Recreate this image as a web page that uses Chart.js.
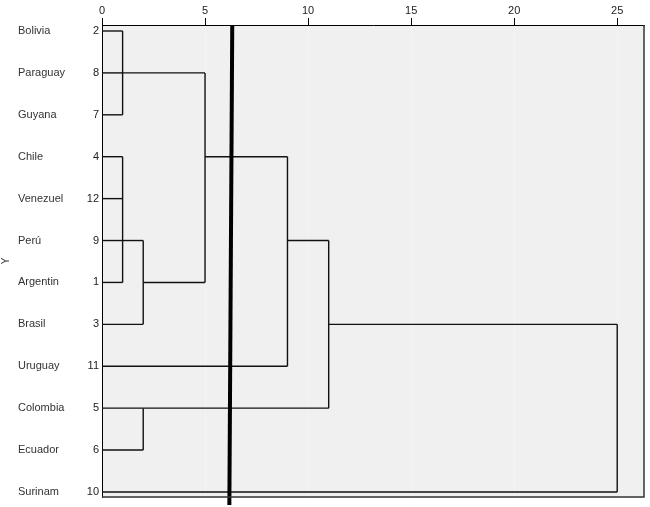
<!DOCTYPE html>
<html>
<head>
<meta charset="utf-8">
<script src="https://cdn.jsdelivr.net/npm/chart.js@4/dist/chart.umd.min.js"></script>
<style>
  html, body { margin: 0; padding: 0; background: #fff; }
  #wrap { width: 650px; height: 507px; }
</style>
</head>
<body>
<div id="wrap"><canvas id="dendro" width="650" height="507"></canvas></div>
<script>
// Leaves, top to bottom
const countries = ['Bolivia', 'Paraguay', 'Guyana', 'Chile', 'Venezuel', 'Perú', 'Argentin', 'Brasil', 'Uruguay', 'Colombia', 'Ecuador', 'Surinam'];
const caseNumbers = [2, 8, 7, 4, 12, 9, 1, 3, 11, 5, 6, 10];

// Clusters: children are leaf rows (numbers) or earlier clusters ('c0', 'c1', ...)
const clusterChildren = [
    [0, 1, 2],
    [3, 4, 5, 6],
    ['c1', 7],
    ['c0', 'c2'],
    ['c3', 8],
    [9, 10],
    ['c4', 'c5'],
    ['c6', 11]
];
const clusterHeights = [1, 1, 2, 5, 9, 2, 11, 25];
const clusterRows = [1, 5, 6, 3, 5, 9, 7, 9];

const xTicks = [0, 5, 10, 15, 20, 25];
const cutLine = [6.32, 6.18]; // hand drawn cut, top and bottom

const yMin = -0.143;
const yMax = 11.12;
const font = { family: "'Liberation Sans', Arial, sans-serif", size: 11 };

function childPos(c) {
    if (typeof c === 'number') return { row: c, h: 0 };
    const k = parseInt(c.slice(1));
    return { row: clusterRows[k], h: clusterHeights[k] };
}

// Build the elbow segments from the cluster tree
const segments = [];
clusterChildren.forEach((kids, k) => {
    const h = clusterHeights[k];
    const pos = kids.map(childPos);
    pos.forEach(p => segments.push([{ x: p.h, y: p.row }, { x: h, y: p.row }]));
    const rows = pos.map(p => p.row);
    segments.push([{ x: h, y: Math.min(...rows) }, { x: h, y: Math.max(...rows) }]);
});

const datasets = segments.map(seg => ({
    data: seg,
    showLine: true,
    borderColor: '#111',
    borderWidth: 1.4,
    pointRadius: 0,
    order: 1
}));

datasets.push({
    data: [{ x: cutLine[0], y: yMin }, { x: cutLine[1], y: 11.31 }],
    showLine: true,
    borderColor: '#000',
    borderWidth: 4,
    pointRadius: 0,
    clip: false,
    order: 0
});

// Grey plot area and frame
const plotFrame = {
    id: 'plotFrame',
    beforeDraw(chart) {
        const a = chart.chartArea;
        const ctx = chart.ctx;
        ctx.save();
        ctx.fillStyle = '#f0f0f0';
        ctx.fillRect(a.left, a.top, a.right - a.left, a.bottom - a.top);
        ctx.restore();
    },
    afterDatasetsDraw(chart) {
        const a = chart.chartArea;
        const ctx = chart.ctx;
        ctx.save();
        ctx.strokeStyle = '#333';
        ctx.lineWidth = 1.5;
        ctx.beginPath();
        ctx.moveTo(a.left, a.bottom);
        ctx.lineTo(a.right, a.bottom);
        ctx.lineTo(a.right, a.top);
        ctx.stroke();
        ctx.restore();
    }
};

new Chart(document.getElementById('dendro'), {
    type: 'scatter',
    data: { datasets: datasets },
    plugins: [plotFrame],
    options: {
        responsive: false,
        animation: false,
        layout: { padding: { left: 0, right: 6, top: 0, bottom: 10 } },
        plugins: {
            legend: { display: false },
            tooltip: { enabled: false }
        },
        scales: {
            x: {
                type: 'linear',
                position: 'top',
                min: 0,
                max: 26.3,
                afterBuildTicks: s => { s.ticks = xTicks.map(v => ({ value: v })); },
                afterFit: s => { s.height = 25; },
                grid: { color: 'rgba(255,255,255,0.3)', tickColor: '#000', tickLength: 7 },
                border: { color: '#000', width: 1 },
                ticks: { color: '#222', font: font, padding: 0, maxRotation: 0 }
            },
            y: {
                type: 'linear',
                axis: 'y',
                position: 'left',
                reverse: true,
                min: yMin,
                max: yMax,
                afterBuildTicks: s => { s.ticks = caseNumbers.map((n, i) => ({ value: i })); },
                afterFit: s => { s.width = 22; },
                grid: { display: false, drawTicks: false },
                border: { color: '#000', width: 1 },
                ticks: { color: '#222', font: font, padding: 3, callback: v => caseNumbers[v] }
            },
            yName: {
                type: 'linear',
                axis: 'y',
                position: 'left',
                weight: 1,
                reverse: true,
                min: yMin,
                max: yMax,
                afterBuildTicks: s => { s.ticks = countries.map((n, i) => ({ value: i })); },
                afterFit: s => { s.width = 62; },
                grid: { display: false, drawTicks: false },
                border: { display: false },
                ticks: { color: '#333', font: font, crossAlign: 'far', callback: v => countries[v] }
            },
            yTitle: {
                type: 'linear',
                axis: 'y',
                position: 'left',
                weight: 2,
                afterFit: s => { s.width = 18; },
                grid: { display: false, drawTicks: false },
                border: { display: false },
                ticks: { display: false },
                title: { display: true, text: 'Y', color: '#333', padding: 0, font: { family: font.family, size: 10 } }
            }
        }
    }
});
</script>
</body>
</html>
